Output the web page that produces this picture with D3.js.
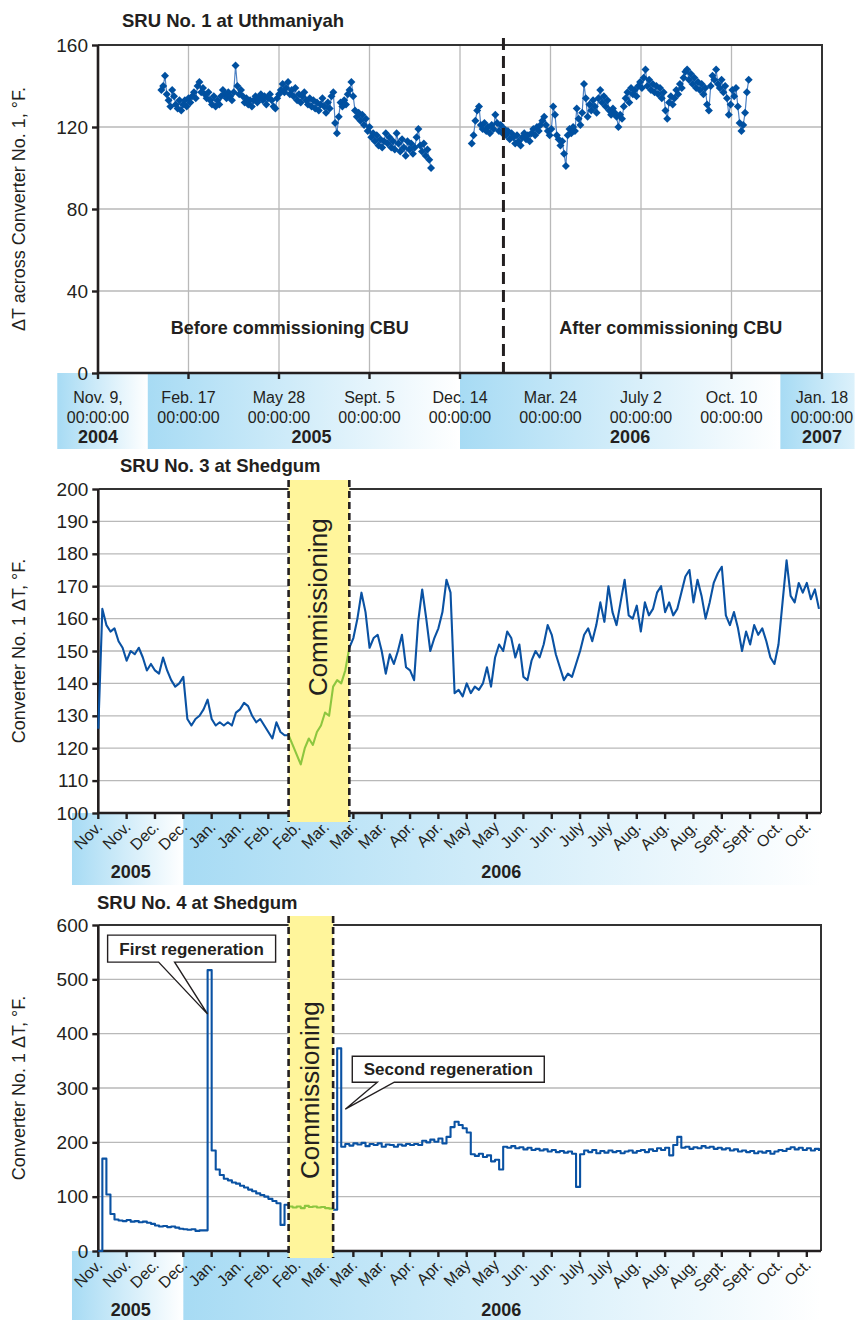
<!DOCTYPE html>
<html>
<head>
<meta charset="utf-8">
<script src="https://cdn.jsdelivr.net/npm/d3@7"></script>
<style>
  body { margin: 0; background: #fff; }
  svg { display: block; }
  text { font-family: "Liberation Sans", Arial, Helvetica, sans-serif; fill: #231f20; }
</style>
</head>
<body>
<svg id="chart" width="855" height="1320"></svg>
<script>
// ---------- SRU No. 1 at Uthmaniyah (readings every 2 days) ----------
const sru1StepDays = 2;
const sru1BeforeStart = '2005-01-18';
const sru1BeforeValues = [
  138,140,145,136,133,130,138,135,131,129,
  133,128,131,133,130,134,132,135,137,134,
  140,142,137,139,136,134,137,133,131,135,
  130,133,131,135,138,136,134,137,135,133,
  137,150,140,136,138,135,132,134,131,133,
  130,133,135,132,134,136,133,135,131,134,
  136,133,130,129,134,136,138,141,137,139,
  142,136,138,135,139,133,136,132,135,137,
  133,131,134,130,133,129,132,128,131,134,
  130,127,132,129,135,137,122,117,125,132,
  130,133,131,136,138,142,135,128,125,127,
  123,126,121,124,118,120,115,117,113,116,
  111,114,110,113,117,112,115,110,113,109,
  117,112,108,114,110,106,113,109,112,107,
  110,115,119,111,108,112,106,109,104,100
];
const sru1AfterStart = '2005-12-27';
const sru1AfterValues = [
  112,116,123,128,130,121,119,122,118,120,
  117,121,119,126,122,118,121,117,119,116,
  118,114,117,115,112,116,113,111,115,117,
  114,116,113,117,119,116,120,118,121,123,
  125,121,118,116,119,130,126,116,114,111,
  113,107,101,116,119,117,120,118,129,124,
  121,127,141,134,125,131,128,133,130,127,
  134,138,132,135,130,133,128,126,129,127,
  125,120,126,124,130,134,137,132,139,136,
  138,135,140,142,139,144,148,140,143,138,
  141,137,140,136,139,134,137,128,124,132,
  135,131,134,138,136,141,139,144,147,148,
  143,146,141,144,139,142,138,141,136,139,
  131,128,140,145,143,148,141,139,143,137,
  140,134,126,131,138,135,139,130,122,118,
  121,127,137,143
];
const sru1Domain = ['2004-11-09', '2007-01-18'];
const sru1YTicks = [0, 40, 80, 120, 160];
const sru1TickDates = ['2004-11-09','2005-02-17','2005-05-28','2005-09-05','2005-12-14','2006-03-24','2006-07-02','2006-10-10','2007-01-18'];
const sru1TickLabels = ['Nov. 9,','Feb. 17','May 28','Sept. 5','Dec. 14','Mar. 24','July 2','Oct. 10','Jan. 18'];
const sru1TickTime = '00:00:00';
const sru1Years = ['2004','2005','2006','2007'];
const sru1YearStarts = ['2004-09-25','2005-01-03','2005-12-14','2006-12-03'];
const sru1YearEnds = ['2005-01-03','2005-12-14','2006-12-03','2007-02-23'];
const sru1YearLabelDates = ['2004-11-09','2005-07-03','2006-06-20','2007-01-18'];
const sru1CbuDate = '2006-01-31';
const sru1PhaseLabels = ['Before commissioning CBU', 'After commissioning CBU'];
const sru1PhaseDates = ['2005-06-09', '2006-08-04'];
const sru1PhaseValue = 19;

// ---------- Shedgum SRUs No. 3 and 4 (readings every 2 days) ----------
const shedgumStart = '2005-11-09';
const shedgumStepDays = 2;
const shedgumDomain = ['2005-11-09', '2006-11-01'];
const shedgumTickDates = ['2005-11-09','2005-11-23','2005-12-07','2005-12-21','2006-01-04','2006-01-18','2006-02-01','2006-02-15','2006-03-01','2006-03-15','2006-03-29','2006-04-12','2006-04-26','2006-05-10','2006-05-24','2006-06-07','2006-06-21','2006-07-05','2006-07-19','2006-08-02','2006-08-16','2006-08-30','2006-09-13','2006-09-27','2006-10-11','2006-10-25'];
const shedgumTickLabels = ['Nov.','Nov.','Dec.','Dec.','Jan.','Jan.','Feb.','Feb.','Mar.','Mar.','Mar.','Apr.','Apr.','May','May','Jun.','Jun.','July','July','Aug.','Aug.','Aug.','Sept.','Sept.','Oct.','Oct.'];
const shedgumYears = ['2005','2006'];
const shedgumYearStarts = ['2005-10-27','2005-12-21'];
const shedgumYearEnds = ['2005-12-21','2006-11-01'];
const shedgumYearLabelDates = ['2005-11-25','2006-05-27'];

const sru3Values = [
  126,163,158,156,157,153,151,147,150,149,
  151,148,144,146,144,143,148,144,141,139,
  140,142,129,127,129,130,132,135,129,127,
  128,127,128,127,131,132,134,133,130,128,
  129,127,125,123,128,125,124,124,121,118,
  115,120,123,121,125,127,131,130,139,141,
  140,144,151,154,160,168,162,151,154,155,
  150,143,149,146,150,155,145,144,141,159,
  169,160,150,154,157,162,172,168,137,138,
  136,140,137,139,138,140,145,139,148,152,
  150,156,154,148,152,142,141,147,150,148,
  152,158,155,149,145,141,143,142,146,150,
  155,157,153,158,165,159,170,162,158,165,
  172,161,160,164,156,165,161,163,168,170,
  162,165,161,163,168,173,175,165,172,167,
  160,165,171,174,176,161,158,162,157,150,
  156,152,158,155,157,153,148,146,152,165,
  178,167,165,171,168,171,166,169,163
];
const sru3YTicks = [100,110,120,130,140,150,160,170,180,190,200];
const sru3Commissioning = ['2006-02-11', '2006-03-13'];

const sru4Values = [
  0,170,104,68,58,56,55,57,54,55,
  53,54,52,50,47,45,46,44,45,43,
  41,40,39,40,37,38,38,517,185,150,
  140,133,130,126,124,120,117,113,110,106,
  103,100,96,92,88,48,85,82,80,82,
  79,83,81,82,80,81,79,78,76,373,
  192,197,194,198,196,199,193,197,195,198,
  192,196,195,192,196,194,197,195,197,195,
  203,200,205,201,207,198,210,228,238,232,
  226,218,178,175,179,173,176,165,168,150,
  192,190,193,189,191,187,190,186,188,185,
  187,183,186,182,184,181,183,179,118,178,
  185,182,186,180,184,181,185,182,184,180,
  183,185,181,184,186,182,187,184,189,186,
  190,176,195,210,190,192,188,191,189,193,
  190,192,188,190,187,189,185,187,183,185,
  182,184,180,183,181,184,179,183,186,184,
  188,191,187,190,186,189,185,188,184
];
const sru4YTicks = [0,100,200,300,400,500,600];
const sru4Commissioning = ['2006-02-11', '2006-03-05'];
const sru4Callouts = ['First regeneration', 'Second regeneration'];
const sru4CalloutDates = ['2006-01-02', '2006-03-11'];
const sru4CalloutValues = [436, 261];

// ---------- helpers ----------
const svg = d3.select('#chart');
const defs = svg.append('defs');
const parse = d3.utcParse('%Y-%m-%d');
const DAY = 864e5;
const BLUE = '#0a52a3';
const GREEN = '#8dc63f';
const INK = '#231f20';
const GRID = '#b9b9b9';

function stepDates(start, step, n) {
  const t0 = parse(start).getTime();
  return d3.range(n).map(i => new Date(t0 + i * step * DAY));
}

let gradCount = 0;
function bandFill(endColor) {
  const id = 'band' + (gradCount++);
  const lg = defs.append('linearGradient').attr('id', id)
    .attr('x1', 0).attr('x2', 1).attr('y1', 0).attr('y2', 0);
  lg.append('stop').attr('offset', 0).attr('stop-color', '#a7dbf4');
  lg.append('stop').attr('offset', 1).attr('stop-color', endColor);
  return `url(#${id})`;
}

function yearBands(g, x, yTop, h, years, starts, ends, labelDates, labelY, lastEnd) {
  years.forEach((yr, i) => {
    const xa = x(parse(starts[i])), xb = x(parse(ends[i]));
    g.append('rect').attr('x', xa).attr('y', yTop).attr('width', xb - xa).attr('height', h)
      .attr('fill', bandFill(i === years.length - 1 ? lastEnd : '#ffffff'));
  });
  return () => years.forEach((yr, i) => {
    g.append('text').attr('x', x(parse(labelDates[i]))).attr('y', labelY)
      .attr('text-anchor', 'middle').attr('font-weight', 'bold').attr('font-size', 18).text(yr);
  });
}

function hGrid(g, p, yScale, gridTicks) {
  g.selectAll(null).data(gridTicks).join('line')
    .attr('x1', p.left).attr('x2', p.right)
    .attr('y1', d => yScale(d)).attr('y2', d => yScale(d))
    .attr('stroke', GRID).attr('stroke-width', 1.3);
}

function axesAndBorder(g, p, yScale, yTicks, labelX) {
  // top and right border
  g.append('path').attr('d', `M${p.left},${p.top}H${p.right}V${p.bottom}`)
    .attr('fill', 'none').attr('stroke', '#333').attr('stroke-width', 2);
  // left and bottom axis
  g.append('path').attr('d', `M${p.left},${p.top}V${p.bottom}H${p.right}`)
    .attr('fill', 'none').attr('stroke', INK).attr('stroke-width', 2.6);
  const yAxis = d3.axisLeft(yScale).tickValues(yTicks).tickSize(6).tickSizeOuter(0).tickPadding(4);
  const ag = g.append('g').attr('transform', `translate(${p.left},0)`).call(yAxis);
  ag.select('.domain').remove();
  ag.selectAll('.tick line').attr('stroke', INK).attr('stroke-width', 2.4);
  ag.selectAll('.tick text').attr('font-size', 19).attr('fill', INK)
    .attr('font-family', '"Liberation Sans", Arial, sans-serif').attr('x', labelX);
}

function yTitle(g, text, cx, cy) {
  g.append('text').attr('transform', `translate(${cx},${cy}) rotate(-90)`)
    .attr('text-anchor', 'middle').attr('font-size', 18).text(text);
}

function title(g, text, x, y) {
  g.append('text').attr('x', x).attr('y', y).attr('font-size', 18.5).attr('font-weight', 'bold').text(text);
}

// ================= Chart 1: SRU No. 1 at Uthmaniyah =================
{
  const p = { left: 98, right: 822, top: 45, bottom: 373 };
  const g = svg.append('g');
  const x = d3.scaleUtc().domain(sru1Domain.map(parse)).range([p.left, p.right]);
  const y = d3.scaleLinear().domain([0, 160]).range([p.bottom, p.top]);

  const yearLabels = yearBands(g, x, p.bottom, 76, sru1Years, sru1YearStarts, sru1YearEnds,
    sru1YearLabelDates, 443, '#dcf1fb');

  // grid
  hGrid(g, p, y, sru1YTicks.slice(1, -1));
  g.selectAll(null).data(sru1TickDates.slice(1, -1)).join('line')
    .attr('x1', d => x(parse(d))).attr('x2', d => x(parse(d)))
    .attr('y1', p.top).attr('y2', p.bottom)
    .attr('stroke', GRID).attr('stroke-width', 1.3);

  axesAndBorder(g, p, y, sru1YTicks, -10);

  // x ticks and two-line labels
  g.selectAll(null).data(sru1TickDates).join('line')
    .attr('x1', d => x(parse(d))).attr('x2', d => x(parse(d)))
    .attr('y1', p.bottom).attr('y2', p.bottom + 6)
    .attr('stroke', INK).attr('stroke-width', 2.4);
  sru1TickDates.forEach((d, i) => {
    const t = g.append('text').attr('x', x(parse(d))).attr('text-anchor', 'middle').attr('font-size', 16);
    t.append('tspan').attr('x', x(parse(d))).attr('y', 403).text(sru1TickLabels[i]);
    t.append('tspan').attr('x', x(parse(d))).attr('y', 423).text(sru1TickTime);
  });
  yearLabels();

  // data: thin connecting line + diamond markers
  const segs = [
    { dates: stepDates(sru1BeforeStart, sru1StepDays, sru1BeforeValues.length), vals: sru1BeforeValues },
    { dates: stepDates(sru1AfterStart, sru1StepDays, sru1AfterValues.length), vals: sru1AfterValues }
  ];
  const line = d3.line().x(d => x(d[0])).y(d => y(d[1]));
  segs.forEach(s => {
    const pts = s.dates.map((d, i) => [d, s.vals[i]]);
    g.append('path').attr('d', line(pts)).attr('fill', 'none')
      .attr('stroke', '#4f82c3').attr('stroke-width', 1.2);
    g.selectAll(null).data(pts).join('path')
      .attr('d', 'M0,-4L4,0L0,4L-4,0Z')
      .attr('transform', d => `translate(${x(d[0])},${y(d[1])})`)
      .attr('fill', '#0050a0');
  });

  // CBU commissioning marker
  const xc = x(parse(sru1CbuDate));
  g.append('line').attr('x1', xc).attr('x2', xc).attr('y1', 38).attr('y2', p.bottom + 6)
    .attr('stroke', INK).attr('stroke-width', 3).attr('stroke-dasharray', '12,6');

  sru1PhaseLabels.forEach((lbl, i) => {
    g.append('text').attr('x', x(parse(sru1PhaseDates[i]))).attr('y', y(sru1PhaseValue))
      .attr('text-anchor', 'middle').attr('font-weight', 'bold').attr('font-size', 18).text(lbl);
  });

  yTitle(g, 'ΔT across Converter No. 1, °F.', 25, (p.top + p.bottom) / 2);
  title(g, 'SRU No. 1 at Uthmaniyah', 122, 27);
}

// ================= Shedgum charts =================
function shedgumChart(opts) {
  const p = opts.p;
  const g = svg.append('g');
  const x = d3.scaleUtc().domain(shedgumDomain.map(parse)).range([p.left, p.right]);
  const y = d3.scaleLinear().domain(opts.yDomain).range([p.bottom, p.top]);

  const yearLabels = yearBands(g, x, p.bottom, opts.bandH, shedgumYears, shedgumYearStarts,
    shedgumYearEnds, shedgumYearLabelDates, opts.yearY, '#ffffff');

  hGrid(g, p, y, opts.yTicks.slice(1, -1));
  axesAndBorder(g, p, y, opts.yTicks, -10);

  g.selectAll(null).data(shedgumTickDates).join('line')
    .attr('x1', d => x(parse(d))).attr('x2', d => x(parse(d)))
    .attr('y1', p.bottom).attr('y2', p.bottom + 6)
    .attr('stroke', INK).attr('stroke-width', 2.4);

  // commissioning period
  const xa = x(parse(opts.comm[0])), xb = x(parse(opts.comm[1]));
  g.append('rect').attr('x', xa).attr('y', opts.commTop).attr('width', xb - xa)
    .attr('height', opts.commBottom - opts.commTop).attr('fill', '#fff59b');
  g.append('text')
    .attr('transform', `translate(${(xa + xb) / 2 + 8},${y(opts.commLabelValue)}) rotate(-90)`)
    .attr('text-anchor', 'middle').attr('font-size', 26).text('Commissioning');

  shedgumTickDates.forEach((d, i) => {
    g.append('text')
      .attr('transform', `translate(${x(parse(d)) + 5},${p.bottom + 15}) rotate(-45)`)
      .attr('text-anchor', 'end').attr('font-size', 16).text(shedgumTickLabels[i]);
  });
  yearLabels();

  // series
  const dates = stepDates(shedgumStart, shedgumStepDays, opts.values.length);
  const pts = dates.map((d, i) => [d, opts.values[i]]);
  const c0 = parse(opts.comm[0]), c1 = parse(opts.comm[1]);
  const line = d3.line().x(d => x(d[0])).y(d => y(d[1])).curve(opts.curve);
  const before = pts.filter(d => d[0] <= c0);
  const during = pts.filter(d => d[0] >= c0 && d[0] <= c1);
  const after = pts.filter(d => d[0] >= c1);
  [before, after].forEach(seg => g.append('path').attr('d', line(seg)).attr('fill', 'none')
    .attr('stroke', BLUE).attr('stroke-width', 2.1).attr('stroke-linejoin', 'round'));
  g.append('path').attr('d', line(during)).attr('fill', 'none')
    .attr('stroke', GREEN).attr('stroke-width', 2.1).attr('stroke-linejoin', 'round');

  [xa, xb].forEach(xx => g.append('line').attr('x1', xx).attr('x2', xx)
    .attr('y1', opts.commTop).attr('y2', opts.commBottom)
    .attr('stroke', INK).attr('stroke-width', 2.6).attr('stroke-dasharray', '7,4'));

  yTitle(g, 'Converter No. 1 ΔT, °F.', 25, (p.top + p.bottom) / 2);
  title(g, opts.title, opts.titleX, opts.titleY);
  return { g, x, y };
}

shedgumChart({
  p: { left: 98.3, right: 821, top: 489, bottom: 813 },
  yDomain: [100, 200], yTicks: sru3YTicks, values: sru3Values, curve: d3.curveLinear,
  comm: sru3Commissioning, commTop: 480, commBottom: 822, commLabelValue: 163.5,
  bandH: 72, yearY: 878,
  title: 'SRU No. 3 at Shedgum', titleX: 120, titleY: 472
});

// SRU 4 readings are held between samples so short regeneration spikes stay upright
const c4 = shedgumChart({
  p: { left: 98.3, right: 821, top: 925, bottom: 1251 },
  yDomain: [0, 600], yTicks: sru4YTicks, values: sru4Values, curve: d3.curveStepAfter,
  comm: sru4Commissioning, commTop: 916, commBottom: 1258, commLabelValue: 296,
  bandH: 69, yearY: 1316,
  title: 'SRU No. 4 at Shedgum', titleX: 97, titleY: 909
});

// callouts for the regeneration events
const calloutGeom = [
  { bx: -100, by: -79, bw: 168, bh: 27, t1: -49, t2: -33 },
  { bx: 7, by: -53, bw: 192, bh: 26, t1: 32, t2: 49 }
];
sru4Callouts.forEach((txt, i) => {
  const tx = c4.x(parse(sru4CalloutDates[i])), ty = c4.y(sru4CalloutValues[i]);
  const k = calloutGeom[i];
  const bx = tx + k.bx, by = ty + k.by, bb = by + k.bh;
  const path = `M${bx},${by}H${bx + k.bw}V${bb}H${tx + k.t2}L${tx},${ty}L${tx + k.t1},${bb}H${bx}Z`;
  c4.g.append('path').attr('d', path).attr('fill', '#fff').attr('stroke', INK).attr('stroke-width', 1.4);
  c4.g.append('text').attr('x', bx + k.bw / 2).attr('y', by + k.bh / 2 + 6)
    .attr('text-anchor', 'middle').attr('font-weight', 'bold').attr('font-size', 17).text(txt);
});
</script>
</body>
</html>
